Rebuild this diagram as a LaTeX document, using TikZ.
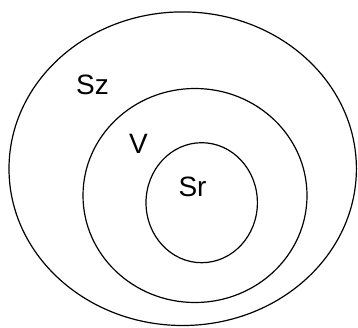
\documentclass[tikz,border=0pt]{standalone}
\usepackage{fontspec}
\setmainfont{Liberation Sans}
\usepackage{tikz}

\tikzset{
    ring/.style={draw=black,line width=1.2pt},
    setlabel/.style={font=\fontsize{28}{30}\selectfont,inner sep=0pt}
}

\begin{document}
\begin{tikzpicture}[x=1pt,y=-1pt]
            \useasboundingbox (0,0) rectangle (358,327);

            \draw[ring] (182.7,168.7) ellipse[x radius=173.7,y radius=156.8];
            \draw[ring] (195,195.5) ellipse[x radius=112,y radius=107];
            \draw[ring] (201.7,202.7) ellipse[x radius=55.7,y radius=60];

            \node[setlabel] (sz) at (92.5,85) {Sz};
            \node[setlabel] (v) at (138.5,144) {V};
            \node[setlabel] (sr) at (192.5,186.5) {Sr};
        \end{tikzpicture}
\end{document}
